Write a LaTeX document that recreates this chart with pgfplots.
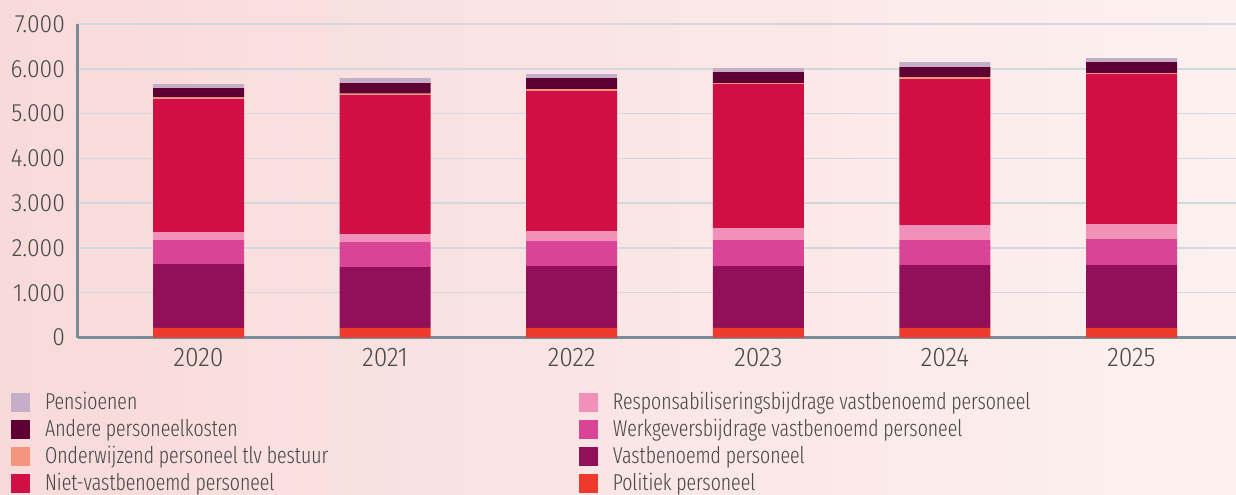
\documentclass[border=0pt]{standalone}
\usepackage{pgfplots}
\pgfplotsset{compat=1.18}
\usetikzlibrary{backgrounds}
\usepackage{fontspec}
\setmainfont{Fira Sans Condensed}[UprightFont=* Light]
\newfontfamily\legfont{Fira Sans Extra Condensed}[UprightFont=* Light, FakeStretch=0.935]
\definecolor{cPens}{HTML}{C5AEC8}
\definecolor{cAnd}{HTML}{5F0032}
\definecolor{cOnd}{HTML}{F4957E}
\definecolor{cNiet}{HTML}{D01045}
\definecolor{cResp}{HTML}{F190B8}
\definecolor{cWerk}{HTML}{DA4497}
\definecolor{cVast}{HTML}{921057}
\definecolor{cPol}{HTML}{EE3A2D}
\definecolor{bgL}{HTML}{F8DADA}
\definecolor{bgR}{HTML}{FCF1EF}
\definecolor{gridc}{HTML}{D2D8DE}
\definecolor{axc}{HTML}{7B8C99}
\definecolor{txt}{HTML}{4A4A4A}
\newcommand\li[1]{\addlegendimage{legend image code/.code={\fill[#1] (0pt,-4.5pt) rectangle (9pt,4.5pt);\path (16.5pt,0pt);}}}
\pgfplotstableread{
x pol vast werk resp niet ond and pens
0 215 1426 536 178 2970 38 207 90
1 215 1359 558 179 3103 29 239 112
2 215 1381 558 223 3126 45 246 89
3 215 1381 581 267 3216 22 245 90
4 215 1404 558 335 3260 44 224 111
5 215 1404 580 335 3349 22 246 89
}\data
\begin{document}
\begin{tikzpicture}
\begin{axis}[
  width=579pt, height=156.75pt, scale only axis,
  xmin=-0.646, xmax=5.56, ymin=0, ymax=7000,
  xtick={0,1,2,3,4,5}, xticklabels={2020,2021,2022,2023,2024,2025},
  ytick={0,1000,2000,3000,4000,5000,6000,7000},
  scaled y ticks=false,
  /pgf/number format/.cd, 1000 sep={.}, assume math mode=true, /pgfplots/.cd,
  ymajorgrids, grid style={color=gridc, line width=0.75pt},
  axis lines*=left,
  x axis line style={color=axc, line width=1.5pt, -},
  y axis line style={color=axc, line width=1.5pt, -},
  major tick length=0pt, tick style={draw=none},
  yticklabel style={font=\fontsize{12.5}{14}\selectfont, color=txt, xshift=-3pt},
  xticklabel style={font=\fontsize{13.5}{16}\selectfont, color=txt, yshift=-2pt},
  ybar stacked, bar width=45.5pt,
  legend columns=2,
  legend cell align=left,
  legend style={at={(-0.0579,-0.1700)}, anchor=north west, draw=none, fill=none,
    inner sep=0pt, column sep=0pt, row sep=2pt,
    font=\legfont\fontsize{11.5}{14}\selectfont, text=txt,
    nodes={inner sep=0pt, text height=9pt, text depth=2.5pt}},
]
\coordinate (O) at (axis cs:-0.646,0);
\addplot[fill=cPol, draw=none, forget plot] table[x=x,y=pol]{\data};
\addplot[fill=cVast, draw=none, forget plot] table[x=x,y=vast]{\data};
\addplot[fill=cWerk, draw=none, forget plot] table[x=x,y=werk]{\data};
\addplot[fill=cResp, draw=none, forget plot] table[x=x,y=resp]{\data};
\addplot[fill=cNiet, draw=none, forget plot] table[x=x,y=niet]{\data};
\addplot[fill=cOnd, draw=none, forget plot] table[x=x,y=ond]{\data};
\addplot[fill=cAnd, draw=none, forget plot] table[x=x,y=and]{\data};
\addplot[fill=cPens, draw=none, forget plot] table[x=x,y=pens]{\data};
\li{cPens}\addlegendentry{\makebox[267pt][l]{Pensioenen}}
\li{cResp}\addlegendentry{Responsabiliseringsbijdrage vastbenoemd personeel}
\li{cAnd}\addlegendentry{\makebox[267pt][l]{Andere personeelkosten}}
\li{cWerk}\addlegendentry{Werkgeversbijdrage vastbenoemd personeel}
\li{cOnd}\addlegendentry{\makebox[267pt][l]{Onderwijzend personeel tlv bestuur}}
\li{cVast}\addlegendentry{Vastbenoemd personeel}
\li{cNiet}\addlegendentry{\makebox[267pt][l]{Niet-vastbenoemd personeel}}
\li{cPol}\addlegendentry{Politiek personeel}
\end{axis}
\begin{scope}[on background layer]
\fill[left color=bgL, right color=bgR] ([shift={(-39pt,-78.25pt)}]O) rectangle ([shift={(579pt,168.75pt)}]O);
\end{scope}
\pgfresetboundingbox
\useasboundingbox ([shift={(-39pt,-78.25pt)}]O) rectangle ([shift={(579pt,168.75pt)}]O);
\end{tikzpicture}
\end{document}
